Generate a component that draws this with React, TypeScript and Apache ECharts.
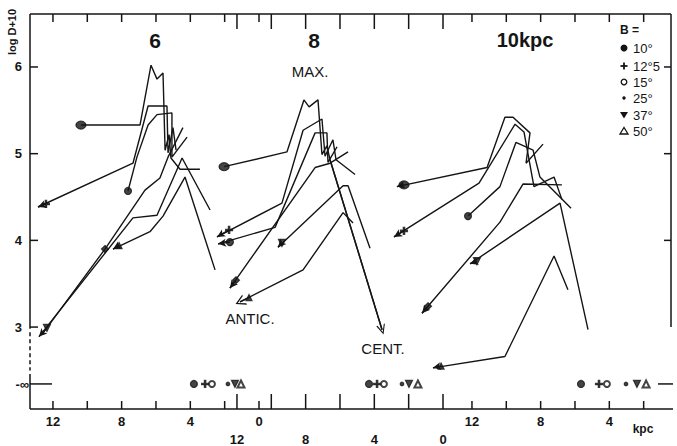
import React, { useEffect, useRef } from 'react';
import * as echarts from 'echarts';

// ---------- axis ranges (kpc per panel, log D + 10) ----------
const Y_MIN = 2.055;
const Y_MAX = 6.611;
const NEG_INF = 2.344; // position of the "-∞" row
const PANEL_X_MIN = [-23.995, -13.279, 0.408];
const PANEL_X_MAX = [13.337, 24.054, 37.74];

const tickKpc = [0, 2, 4, 6, 8, 10, 12];
const labelKpc = [0, 4, 8, 12];
const yTicks = [6, 5, 4, 3];
const yTicksRight = [6, 5, 4];

const bLabels = ['10°', '12°5', '15°', '25°', '37°', '50°'];

// ---------- panel "6 kpc" ----------
const p6_b10 = [[10.37, 5.33], [6.93, 5.33], [6.29, 6.02], [5.94, 5.86], [5.59, 5.93], [5.47, 5.04], [5.24, 5.22], [5.13, 4.95], [4.6, 4.82], [3.44, 4.82]];
const p6_b125 = [[12.87, 4.385], [7.34, 4.89], [6.46, 5.55], [5.36, 5.55], [5.3, 5.01], [5.01, 5.3], [4.83, 5.04]];
const p6_b15 = [[7.63, 4.57], [7.11, 4.96], [6.46, 5.33], [5.94, 5.45], [5.07, 5.47], [5.07, 4.96], [4.19, 5.19]];
const p6_b25 = [[12.58, 2.93], [8.97, 3.9], [6.64, 4.58], [5.77, 4.72], [5.3, 4.96], [4.43, 5.3]];
const p6_b37 = [[12.81, 2.89], [7.34, 4.26], [5.94, 4.29], [4.48, 4.95], [2.85, 4.35]];
const p6_b50 = [[8.5, 3.9], [6.35, 4.1], [5.59, 4.28], [4.31, 4.73], [2.56, 3.66]];
const p6_markers = [[10.37, 5.33], [12.41, 4.42], [7.63, 4.57], [8.97, 3.9], [12.35, 2.99], [8.15, 3.94]];
const p6_tips = [null, [12.87, 4.385], null, null, [12.81, 2.89], [8.5, 3.9]];
const p6_ninf = [3.79, 3.14, 2.74, 1.81, 1.4, 1.05];

// ---------- panel "8 kpc" ----------
const p8_b10 = [[12.75, 4.85], [9.09, 5.02], [8.1, 5.62], [7.8, 5.54], [7.28, 5.62], [7.05, 4.99], [6.76, 5.09], [6.58, 4.93]];
const p8_b125 = [[13.16, 4.04], [9.38, 4.43], [8.15, 5.27], [7.05, 5.4], [6.87, 4.97], [6.41, 5.16], [6.23, 4.93], [5.12, 4.76]];
const p8_b15 = [[13.1, 3.96], [9.78, 4.15], [7.45, 5.24], [6.76, 5.24], [6.7, 4.9], [6.17, 5.08]];
const p8_b25 = [[12.41, 3.45], [7.45, 4.84], [6.58, 4.89], [5.53, 5.02]];
const p8_b37 = [[9.61, 3.92], [5.82, 4.63], [5.53, 4.63], [4.25, 3.91]];
const p8_b50 = [[11.82, 3.29], [8.15, 3.66], [5.82, 4.32], [5.24, 4.2]];
const p8_markers = [[12.75, 4.85], [12.46, 4.12], [12.41, 3.98], [12.06, 3.54], [9.38, 3.97], [11.3, 3.34]];
const p8_tips = [null, [13.16, 4.04], [13.1, 3.96], [12.41, 3.45], [9.61, 3.92], [11.82, 3.29]];
const p8_ninf = [4.31, 3.84, 3.44, 2.39, 1.98, 1.46];
const p8_cent = [[6.58, 4.93], [3.55, 2.97]];

// ---------- panel "10 kpc" ----------
const p10_b10 = [[16.37, 4.62], [11.12, 4.84], [10.08, 5.42], [9.61, 5.42], [8.62, 5.24], [8.85, 4.89], [7.86, 5.11]];
const p10_b125 = [[16.54, 4.04], [11.59, 4.66], [9.49, 5.34], [8.97, 5.25], [8.39, 4.62], [7.22, 4.73], [6.76, 4.47]];
const p10_b15 = [[12.23, 4.28], [10.37, 4.62], [9.44, 5.13], [8.44, 5.04], [8.04, 4.73], [6.23, 4.37]];
const p10_b25 = [[14.91, 3.16], [10.37, 4.21], [9.03, 4.65], [6.76, 4.64]];
const p10_b37 = [[12.11, 3.73], [6.87, 4.43], [5.24, 2.97]];
const p10_b50 = [[14.27, 2.53], [10.08, 2.66], [7.22, 3.82], [6.41, 3.43]];
const p10_markers = [[15.96, 4.64], [15.96, 4.11], [12.23, 4.28], [14.56, 3.24], [11.71, 3.76], [13.8, 2.55]];
const p10_tips = [[16.37, 4.62], [16.54, 4.04], null, [14.91, 3.16], [12.11, 3.73], [14.27, 2.53]];
const p10_ninf = [5.65, 4.6, 4.14, 3.03, 2.39, 1.86];

// ---------- styling ----------
const INK = '#151515';
const FONT = 'Liberation Sans';
const PX_PER_KPC = 17.17;
const SYM_PLUS = 'path://M4,0H6V4H10V6H6V10H4V6H0V4H4Z';
const SYM_OPEN_V = 'path://M0,0L6,10L4.4,10L0,2.6L-4.4,10L-6,10Z';

const keySym = [
  { symbol: 'circle', symbolSize: 7 },
  { symbol: SYM_PLUS, symbolSize: 7 },
  { symbol: 'emptyCircle', symbolSize: 6 },
  { symbol: 'circle', symbolSize: 3.5 },
  { symbol: 'triangle', symbolSize: 7, symbolRotate: 180 },
  { symbol: 'emptyTriangle', symbolSize: 7 },
];
const curveSym = [
  { symbol: 'circle', symbolSize: [10, 8] },
  { symbol: SYM_PLUS, symbolSize: 7 },
  { symbol: 'circle', symbolSize: 7 },
  { symbol: 'diamond', symbolSize: 7 },
  { symbol: 'triangle', symbolSize: 7, symbolRotate: 180 },
  { symbol: 'triangle', symbolSize: 6 },
];

const txt = (text: string, x: number, y: number, size: number, bold = true, align = 'center', extra: any = {}) => ({
  type: 'text',
  x,
  y,
  silent: true,
  ...extra,
  style: {
    text,
    fill: INK,
    fontSize: size,
    fontWeight: bold ? 'bold' : 'normal',
    fontFamily: FONT,
    textAlign: align,
    align,
    textVerticalAlign: 'middle',
    verticalAlign: 'middle',
  },
});

function baseGraphic() {
  const legY = [48, 66, 82, 98, 115, 131];
  const legX = 624;
  const g: any[] = [
    txt('6', 155, 40, 21),
    txt('8', 314, 40, 21),
    txt('10kpc', 525, 40, 20),
    txt('MAX.', 310, 71, 15, false),
    txt('ANTIC.', 250, 318, 15, false),
    txt('CENT.', 383, 348, 15, false),
    txt('kpc', 643, 429, 12),
    txt('-∞', 29, 384, 13, true, 'right'),
    txt('log D+10', 12, 32, 11, true, 'center', { rotation: Math.PI / 2 }),
    txt('B =', 620, 30, 12, true, 'left'),
    { type: 'circle', shape: { cx: legX, cy: legY[0], r: 3.5 }, style: { fill: INK } },
    { type: 'rect', shape: { x: legX - 3.5, y: legY[1] - 0.9, width: 7, height: 1.8 }, style: { fill: INK } },
    { type: 'rect', shape: { x: legX - 0.9, y: legY[1] - 3.5, width: 1.8, height: 7 }, style: { fill: INK } },
    { type: 'circle', shape: { cx: legX, cy: legY[2], r: 2.8 }, style: { fill: '#fff', stroke: INK, lineWidth: 1.3 } },
    { type: 'circle', shape: { cx: legX, cy: legY[3], r: 1.7 }, style: { fill: INK } },
    { type: 'polygon', shape: { points: [[legX - 4, legY[4] - 3], [legX + 4, legY[4] - 3], [legX, legY[4] + 3.5]] }, style: { fill: INK } },
    { type: 'polygon', shape: { points: [[legX - 4, legY[5] + 3], [legX + 4, legY[5] + 3], [legX, legY[5] - 3.5]] }, style: { fill: '#fff', stroke: INK, lineWidth: 1.3 } },
  ];
  bLabels.forEach((l, i) => g.push(txt(l, 633, legY[i], 13, false, 'left')));
  return g;
}

function buildOption() {
  const panels = [
    { paths: [p6_b10, p6_b125, p6_b15, p6_b25, p6_b37, p6_b50], markers: p6_markers, tips: p6_tips, ninf: p6_ninf },
    { paths: [p8_b10, p8_b125, p8_b15, p8_b25, p8_b37, p8_b50], markers: p8_markers, tips: p8_tips, ninf: p8_ninf },
    { paths: [p10_b10, p10_b125, p10_b15, p10_b25, p10_b37, p10_b50], markers: p10_markers, tips: p10_tips, ninf: p10_ninf },
  ];

  const lineStyle = { color: INK, width: 1.4 };
  const series: any[] = [];

  panels.forEach((pn, p) => {
    pn.paths.forEach((path, b) => {
      const tip = pn.tips[b];
      const openArrow = p === 1 && b === 5;
      series.push({
        type: 'line',
        xAxisIndex: p,
        yAxisIndex: 0,
        data: path,
        symbol: 'none',
        silent: true,
        lineStyle,
        z: 3,
        markLine: tip
          ? {
              silent: true,
              symbol: ['none', openArrow ? SYM_OPEN_V : 'arrow'],
              symbolSize: openArrow ? [11, 10] : [6, 8],
              label: { show: false },
              lineStyle: { color: INK, width: 1.4, type: 'solid' },
              itemStyle: { color: INK },
              data: [[{ coord: pn.markers[b] }, { coord: tip }]],
            }
          : undefined,
      });
      series.push({
        type: 'scatter',
        name: bLabels[b],
        xAxisIndex: p,
        yAxisIndex: 0,
        silent: true,
        z: 5,
        itemStyle: { color: INK, borderColor: INK, borderWidth: 1.2 },
        data: [
          { value: pn.markers[b], ...curveSym[b] },
          { value: [pn.ninf[b], NEG_INF], ...keySym[b] },
        ],
      });
    });
  });

  series.push({
    type: 'line',
    xAxisIndex: 1,
    yAxisIndex: 0,
    data: p8_cent,
    symbol: 'none',
    silent: true,
    lineStyle,
    markLine: {
      silent: true,
      symbol: ['none', SYM_OPEN_V],
      symbolSize: [9, 10],
      label: { show: false },
      lineStyle: { color: INK, width: 1.4, type: 'solid' },
      itemStyle: { color: INK },
      data: [[{ coord: p8_cent[0] }, { coord: p8_cent[1] }]],
    },
  });

  // frame lines
  const xl = PANEL_X_MAX[0];
  const xr = PANEL_X_MIN[0];
  const ext = 6 / PX_PER_KPC;
  const frame = (data: number[][], dashed = false) => ({
    type: 'line',
    xAxisIndex: 0,
    yAxisIndex: 0,
    data,
    symbol: 'none',
    silent: true,
    clip: false,
    z: 4,
    lineStyle: { color: INK, width: 1.5, type: dashed ? [4, 3] : 'solid' },
  });
  series.push(frame([[xl, Y_MAX], [xr, Y_MAX]]));
  series.push(frame([[xl, Y_MIN], [xr - ext, Y_MIN]]));
  series.push(frame([[xl, Y_MAX], [xl, 2.98]]));
  series.push(frame([[xr, Y_MAX], [xr, 3.0]]));
  series.push(frame([[xl, 2.94], [xl, 2.5]], true));
  series.push(frame([[xl, 2.46], [xl, Y_MIN]]));
  series.push(frame([[xl, NEG_INF], [xl - 22 / PX_PER_KPC, NEG_INF]]));
  series.push(frame([[xr + 13 / PX_PER_KPC, NEG_INF], [xr - ext, NEG_INF]]));

  const labelStyle = { color: INK, fontSize: 13, fontWeight: 'bold', fontFamily: FONT };
  const xAxes: any[] = [0, 1, 2].map((p) => ({
    type: 'value',
    gridIndex: 0,
    position: 'bottom',
    inverse: true,
    min: PANEL_X_MIN[p],
    max: PANEL_X_MAX[p],
    axisLine: { show: false, onZero: false },
    axisTick: { show: false },
    axisLabel: { show: true, customValues: labelKpc, margin: p === 1 ? 24 : 6, ...labelStyle, formatter: (v: number) => String(v) },
    splitLine: { show: false },
  }));

  return {
    animation: false,
    backgroundColor: '#fff',
    grid: { left: 30, right: 6, top: 14, bottom: 37, containLabel: false },
    xAxis: xAxes,
    yAxis: [
      {
        type: 'value',
        position: 'left',
        min: Y_MIN,
        max: Y_MAX,
        axisLine: { show: false, onZero: false },
        axisTick: { show: false },
        axisLabel: { show: true, customValues: yTicks, margin: 8, ...labelStyle, formatter: (v: number) => String(v) },
        splitLine: { show: false },
      },
    ],
    graphic: baseGraphic(),
    series,
  };
}

// tick marks: positions taken from the chart's own scales after layout
function tickGraphic(chart: echarts.ECharts) {
  const g: any[] = [];
  const st = { stroke: INK, lineWidth: 1.5 };
  [0, 1, 2].forEach((p) => {
    const len = p === 1 ? 15 : 8;
    tickKpc.forEach((v) => {
      const b = chart.convertToPixel({ xAxisIndex: p, yAxisIndex: 0 } as any, [v, Y_MIN]) as number[];
      const t = chart.convertToPixel({ xAxisIndex: p, yAxisIndex: 0 } as any, [v, Y_MAX]) as number[];
      if (!b || b[0] > 672 || b[0] < 29) return;
      g.push({ type: 'line', silent: true, z: 10, shape: { x1: b[0], y1: b[1], x2: b[0], y2: b[1] - len }, style: st });
      g.push({ type: 'line', silent: true, z: 10, shape: { x1: t[0], y1: t[1], x2: t[0], y2: t[1] + len }, style: st });
    });
  });
  yTicks.forEach((v) => {
    const pt = chart.convertToPixel({ xAxisIndex: 0, yAxisIndex: 0 } as any, [PANEL_X_MAX[0], v]) as number[];
    g.push({ type: 'line', silent: true, z: 10, shape: { x1: pt[0], y1: pt[1], x2: pt[0] + 8, y2: pt[1] }, style: st });
  });
  yTicksRight.forEach((v) => {
    const pt = chart.convertToPixel({ xAxisIndex: 0, yAxisIndex: 0 } as any, [PANEL_X_MIN[0], v]) as number[];
    g.push({ type: 'line', silent: true, z: 10, shape: { x1: pt[0], y1: pt[1], x2: pt[0] - 7, y2: pt[1] }, style: st });
  });
  return g;
}

export default function App() {
  const ref = useRef<HTMLDivElement>(null);
  useEffect(() => {
    if (!ref.current) return;
    const chart = echarts.init(ref.current, null, { renderer: 'svg' });
    chart.setOption(buildOption() as any);
    chart.setOption({ graphic: [...baseGraphic(), ...tickGraphic(chart)] } as any, { replaceMerge: ['graphic'] } as any);
    return () => chart.dispose();
  }, []);
  return (
    <div
      ref={ref}
      style={{ position: 'fixed', left: 0, top: 0, width: 677, height: 446, background: '#fff' }}
    />
  );
}
